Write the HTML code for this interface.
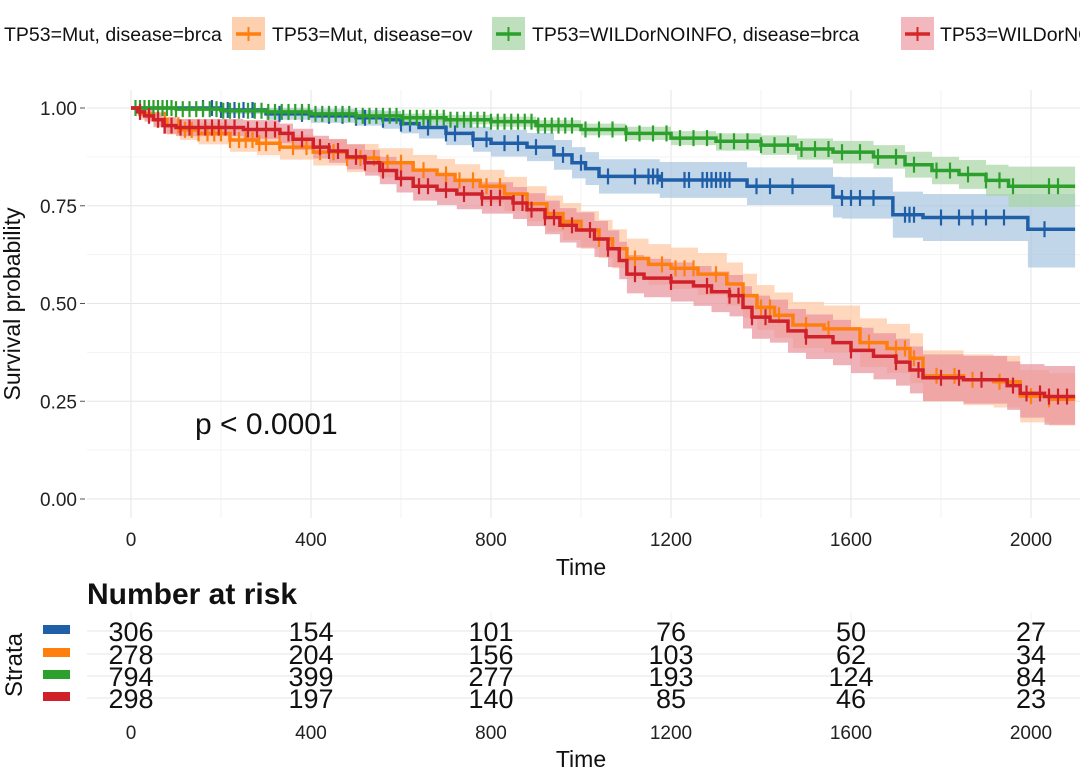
<!DOCTYPE html>
<html><head><meta charset="utf-8">
<style>
html,body{margin:0;padding:0;background:#fff;}
svg{display:block;font-family:"Liberation Sans",Arial,sans-serif;}
</style></head>
<body>
<svg id="chart" width="1080" height="771" viewBox="0 0 1080 771" xmlns="http://www.w3.org/2000/svg">
<g id="legend">
  <g>
    <text x="4" y="41" font-size="19.5" fill="#111">TP53=Mut, disease=brca</text>
  </g>
  <g>
    <rect x="232" y="17" width="33" height="33" fill="#fdd0b0"/>
    <line x1="236" y1="34" x2="261" y2="34" stroke="#ff7f0e" stroke-width="3.5"/>
    <line x1="248.5" y1="27" x2="248.5" y2="41" stroke="#ff7f0e" stroke-width="2"/>
    <text x="272" y="41" font-size="19.5" fill="#111">TP53=Mut, disease=ov</text>
  </g>
  <g>
    <rect x="492" y="17" width="33" height="33" fill="#bfe0bc"/>
    <line x1="496" y1="34" x2="521" y2="34" stroke="#2ca02c" stroke-width="3.5"/>
    <line x1="508.5" y1="27" x2="508.5" y2="41" stroke="#2ca02c" stroke-width="2"/>
    <text x="532" y="41" font-size="19.5" fill="#111">TP53=WILDorNOINFO, disease=brca</text>
  </g>
  <g>
    <rect x="901" y="17" width="33" height="33" fill="#f2b8bd"/>
    <line x1="905" y1="34" x2="930" y2="34" stroke="#d62728" stroke-width="3.5"/>
    <line x1="917.5" y1="27" x2="917.5" y2="41" stroke="#d62728" stroke-width="2"/>
    <text x="940" y="41" font-size="19.5" fill="#111">TP53=WILDorNOINFO, disease=ov</text>
  </g>
</g>
<g id="grid"></g>
<g id="bands"></g>
<g id="lines"></g>
<g id="axes"></g>
<text x="195" y="434" font-size="30" fill="#111">p &lt; 0.0001</text>
<text x="581" y="575" font-size="23" text-anchor="middle" fill="#111">Time</text>
<text transform="translate(20,304) rotate(-90)" font-size="23" text-anchor="middle" fill="#111">Survival probability</text>
<text x="87" y="604" font-size="30" font-weight="bold" fill="#111">Number at risk</text>
<text transform="translate(22,665) rotate(-90)" font-size="24" text-anchor="middle" fill="#111">Strata</text>
<g id="risk"></g>
<text x="581" y="767" font-size="23" text-anchor="middle" fill="#111">Time</text>
</svg>
<script>
// ---- data ----
const xTicks = [0, 400, 800, 1200, 1600, 2000];
const yTicks = [0, 0.25, 0.5, 0.75, 1.0];
const yTickLabels = ["0.00", "0.25", "0.50", "0.75", "1.00"];
const seriesNames = ["mut-brca", "mut-ov", "wild-brca", "wild-ov"];
const seriesColors = ["#1f5fa8", "#ff7f0e", "#2ca02c", "#d0202a"];
const bandColors = ["#a8c4e0", "#fdc6a0", "#a8d6a4", "#e8929a"];

const blueTime = [0, 200, 300, 400, 500, 560, 600, 640, 700, 760, 800, 880, 940, 980, 1010, 1040, 1175, 1369, 1560, 1580, 1693, 1760, 1993];
const blueSurv = [1, .995, .985, .98, .975, .97, .96, .95, .935, .92, .91, .90, .88, .86, .845, .825, .816, .80, .772, .77, .727, .72, .69];
const blueLower = [1, .985, .97, .962, .955, .947, .935, .922, .905, .888, .876, .864, .842, .82, .803, .781, .77, .752, .72, .717, .668, .66, .592];
const blueUpper = [1, 1, 1, .998, .995, .993, .985, .978, .965, .952, .944, .936, .918, .9, .887, .869, .862, .848, .824, .823, .786, .78, .78];
const blueCensor = [160, 180, 200, 215, 230, 250, 270, 330, 380, 440, 470, 500, 520, 560, 600, 620, 660, 700, 720, 760, 790, 830, 860, 900, 960, 1000, 1060, 1120, 1150, 1160, 1170, 1180, 1230, 1240, 1270, 1280, 1290, 1300, 1310, 1320, 1330, 1390, 1420, 1470, 1580, 1600, 1620, 1650, 1720, 1730, 1740, 1800, 1840, 1870, 1900, 1940, 2030];

const greenTime = [0, 100, 200, 300, 400, 500, 600, 700, 800, 900, 1000, 1100, 1200, 1300, 1400, 1480, 1560, 1650, 1720, 1780, 1840, 1900, 1950];
const greenSurv = [1, .997, .993, .99, .985, .98, .975, .97, .965, .955, .945, .935, .923, .915, .905, .895, .887, .875, .855, .84, .83, .815, .80];
const greenLower = [1, .993, .986, .982, .976, .97, .964, .958, .952, .941, .93, .918, .905, .891, .88, .868, .858, .845, .822, .805, .793, .775, .747];
const greenUpper = [1, 1, 1, .998, .994, .99, .986, .982, .978, .969, .96, .952, .941, .935, .93, .922, .916, .905, .888, .875, .867, .855, .85];
const greenCensor = [10, 20, 30, 40, 50, 60, 70, 80, 90, 100, 115, 130, 145, 160, 175, 190, 205, 220, 240, 260, 275, 290, 305, 320, 335, 350, 365, 380, 395, 410, 425, 440, 455, 470, 485, 500, 515, 530, 545, 560, 575, 590, 605, 620, 635, 650, 665, 680, 695, 710, 725, 740, 755, 770, 785, 800, 815, 830, 845, 860, 875, 890, 905, 920, 935, 950, 965, 980, 1010, 1040, 1070, 1100, 1130, 1160, 1190, 1220, 1250, 1280, 1310, 1340, 1370, 1400, 1430, 1460, 1490, 1520, 1550, 1580, 1620, 1660, 1700, 1740, 1790, 1820, 1860, 1900, 1930, 1960, 2040, 2060];

const orangeTime = [0, 20, 50, 80, 109, 150, 220, 280, 331, 405, 480, 550, 627, 680, 720, 776, 830, 880, 924, 960, 1000, 1040, 1070, 1102, 1150, 1200, 1260, 1324, 1360, 1391, 1430, 1471, 1540, 1620, 1680, 1731, 1760, 1850, 1917, 1976, 2040];
const orangeSurv = [1, .985, .97, .955, .944, .935, .918, .91, .90, .887, .872, .86, .841, .83, .815, .80, .78, .755, .73, .71, .688, .665, .64, .615, .60, .59, .575, .55, .52, .49, .47, .445, .435, .40, .385, .36, .315, .305, .30, .263, .255];
const orangeLower = [1, .97, .95, .932, .918, .907, .888, .879, .868, .853, .836, .823, .802, .79, .774, .758, .736, .71, .684, .663, .64, .616, .59, .564, .548, .537, .521, .495, .464, .433, .412, .386, .375, .338, .322, .296, .25, .24, .234, .196, .188];
const orangeUpper = [1, 1, .99, .978, .97, .963, .948, .941, .932, .921, .908, .897, .88, .87, .856, .842, .824, .8, .776, .757, .736, .714, .69, .666, .652, .643, .629, .605, .576, .547, .528, .504, .495, .462, .448, .424, .38, .37, .366, .33, .322];
const orangeCensor = [60, 75, 90, 105, 120, 135, 150, 170, 185, 200, 220, 240, 255, 270, 285, 300, 330, 360, 390, 420, 450, 480, 510, 540, 570, 600, 650, 700, 730, 760, 790, 820, 880, 960, 1040, 1120, 1180, 1210, 1230, 1250, 1300, 1360, 1400, 1420, 1440, 1500, 1550, 1640, 1700, 1720, 1740, 1790, 1830, 1870, 1930, 2000, 2040];

const redTime = [0, 15, 30, 50, 71, 100, 250, 331, 360, 405, 440, 480, 520, 553, 590, 627, 680, 724, 780, 849, 880, 920, 953, 990, 1030, 1060, 1085, 1102, 1140, 1200, 1250, 1290, 1330, 1360, 1380, 1420, 1460, 1500, 1560, 1600, 1650, 1700, 1731, 1760, 1850, 1947, 1976, 2030];
const redSurv = [1, .99, .98, .97, .955, .95, .945, .935, .92, .90, .89, .875, .86, .84, .82, .80, .79, .78, .77, .757, .74, .72, .70, .688, .665, .64, .61, .575, .565, .555, .545, .53, .52, .49, .465, .455, .43, .415, .40, .38, .365, .35, .33, .31, .305, .29, .27, .262];
const redLower = [1, .98, .965, .952, .934, .928, .921, .91, .893, .871, .86, .843, .827, .805, .784, .763, .752, .741, .73, .716, .698, .677, .656, .643, .619, .593, .562, .526, .516, .505, .494, .478, .467, .436, .41, .4, .374, .358, .342, .322, .306, .29, .27, .25, .244, .228, .208, .19];
const redUpper = [1, 1, .995, .988, .976, .972, .969, .96, .947, .929, .92, .907, .893, .875, .856, .837, .828, .819, .81, .798, .782, .763, .744, .733, .711, .687, .658, .624, .614, .605, .596, .582, .573, .544, .52, .51, .486, .472, .458, .438, .424, .41, .39, .37, .366, .352, .345, .34];
const redCensor = [20, 40, 60, 75, 90, 110, 130, 150, 165, 180, 195, 210, 230, 260, 280, 300, 320, 350, 380, 420, 440, 460, 500, 520, 560, 600, 640, 660, 700, 740, 780, 800, 820, 850, 870, 890, 920, 940, 980, 1020, 1060, 1120, 1200, 1280, 1330, 1350, 1380, 1410, 1500, 1600, 1700, 1750, 1800, 1840, 1890, 1960, 1990, 2020, 2040, 2060, 2080];

const riskTimes = [0, 400, 800, 1200, 1600, 2000];
const riskBlue = [306, 154, 101, 76, 50, 27];
const riskOrange = [278, 204, 156, 103, 62, 34];
const riskGreen = [794, 399, 277, 193, 124, 84];
const riskRed = [298, 197, 140, 85, 46, 23];

// ---- scales ----
const X0 = 131, XK = 0.45, Y0 = 499, YK = 391, XMAX = 2098;
function sx(t){ return X0 + t * XK; }
function sy(v){ return Y0 - v * YK; }
const NS = "http://www.w3.org/2000/svg";
function mk(tag, parent, attrs){
  const e = document.createElementNS(NS, tag);
  for (const k in attrs) e.setAttribute(k, attrs[k]);
  parent.appendChild(e);
  return e;
}
function stepPath(times, vals){
  let d = "M" + sx(times[0]) + "," + sy(vals[0]);
  for (let i = 1; i < times.length; i++) d += "H" + sx(times[i]) + "V" + sy(vals[i]);
  d += "H" + sx(XMAX);
  return d;
}
function bandPath(times, lo, hi){
  let d = "M" + sx(times[0]) + "," + sy(hi[0]);
  for (let i = 1; i < times.length; i++) d += "H" + sx(times[i]) + "V" + sy(hi[i]);
  d += "H" + sx(XMAX) + "V" + sy(lo[lo.length-1]);
  for (let i = times.length - 1; i >= 1; i--) d += "H" + sx(times[i]) + "V" + sy(lo[i-1]);
  d += "H" + sx(times[0]) + "Z";
  return d;
}
function stepAt(times, vals, t){
  let v = vals[0];
  for (let i = 0; i < times.length; i++) if (times[i] <= t) v = vals[i];
  return v;
}

// grid
const grid = document.getElementById("grid");
for (let i = 0; i < xTicks.length; i++) {
  const gl = mk("line", grid, {x1: sx(xTicks[i]), x2: sx(xTicks[i]), y1: 90, y2: 518, stroke: "#e6e6e6", "stroke-width": 1});
  
  
  if (i < xTicks.length - 1) {
    const m = mk("line", grid, {x1: sx(xTicks[i] + 200), x2: sx(xTicks[i] + 200), y1: 90, y2: 518, stroke: "#f3f3f3", "stroke-width": 1});
    
    
  }
}
for (let i = 0; i < yTicks.length; i++) {
  const gl = mk("line", grid, {x1: 87, x2: 1080, y1: sy(yTicks[i]), y2: sy(yTicks[i]), stroke: "#e6e6e6", "stroke-width": 1});
  
  
  if (i < yTicks.length - 1) {
    const m = mk("line", grid, {x1: 87, x2: 1080, y1: sy(yTicks[i] + 0.125), y2: sy(yTicks[i] + 0.125), stroke: "#f3f3f3", "stroke-width": 1});
    
    
  }
}
// axes labels
const axes = document.getElementById("axes");
for (let i = 0; i < xTicks.length; i++) {
  const t = mk("text", axes, {x: sx(xTicks[i]), y: 546, "font-size": 19, "text-anchor": "middle", fill: "#222"});
  t.textContent = xTicks[i];
  
  
}
for (let i = 0; i < yTicks.length; i++) {
  const t = mk("text", axes, {x: 77, y: sy(yTicks[i]) + 7, "font-size": 19, "text-anchor": "end", fill: "#222"});
  t.textContent = yTickLabels[i];
  
  
  const tk = mk("line", axes, {x1: 80, x2: 85, y1: sy(yTicks[i]), y2: sy(yTicks[i]), stroke: "#555", "stroke-width": 1});
  
  
}

// series
const series = [
  [blueTime, blueSurv, blueLower, blueUpper, blueCensor],
  [orangeTime, orangeSurv, orangeLower, orangeUpper, orangeCensor],
  [greenTime, greenSurv, greenLower, greenUpper, greenCensor],
  [redTime, redSurv, redLower, redUpper, redCensor]
];
const bands = document.getElementById("bands");
const lines = document.getElementById("lines");
for (let s = 0; s < series.length; s++) {
  const [tm, sv, lo, hi, cs] = series[s];
  const b = mk("path", bands, {d: bandPath(tm, lo, hi), fill: bandColors[s], "fill-opacity": 0.7});
  
  
}
for (let s = 0; s < series.length; s++) {
  const [tm, sv, lo, hi, cs] = series[s];
  const g = mk("g", lines, {});
  
  
  const p = mk("path", g, {d: stepPath(tm, sv), fill: "none", stroke: seriesColors[s], "stroke-width": 3.5});
  
  
  for (let i = 0; i < cs.length; i++) {
    const cx = sx(cs[i]), cy = sy(stepAt(tm, sv, cs[i]));
    const c = mk("line", g, {x1: cx, x2: cx, y1: cy - 8, y2: cy + 8, stroke: seriesColors[s], "stroke-width": 2.2});
    
    
  }
}

// risk table
const risk = document.getElementById("risk");
const riskRows = [riskBlue, riskOrange, riskGreen, riskRed];
const rowY = [631, 654, 676, 698];
for (let i = 0; i < riskTimes.length; i++) {
  const gl = mk("line", risk, {x1: sx(riskTimes[i]), x2: sx(riskTimes[i]), y1: 612, y2: 712, stroke: "#f0f0f0", "stroke-width": 1});
  
  
}
for (let r = 0; r < riskRows.length; r++) {
  const gl = mk("line", risk, {x1: 87, x2: 1080, y1: rowY[r], y2: rowY[r], stroke: "#e6e6e6", "stroke-width": 1});
  
  
  const key = mk("rect", risk, {x: 43, y: rowY[r] - 6, width: 27, height: 9, fill: seriesColors[r]});
  
  
  for (let i = 0; i < riskTimes.length; i++) {
    const t = mk("text", risk, {x: sx(riskTimes[i]), y: rowY[r] + 10, "font-size": 27, "text-anchor": "middle", fill: "#111"});
    t.textContent = riskRows[r][i];
    
    
  }
}
for (let i = 0; i < riskTimes.length; i++) {
  const t = mk("text", risk, {x: sx(riskTimes[i]), y: 739, "font-size": 19, "text-anchor": "middle", fill: "#222"});
  t.textContent = riskTimes[i];
  
  
}
</script>
</body></html>
